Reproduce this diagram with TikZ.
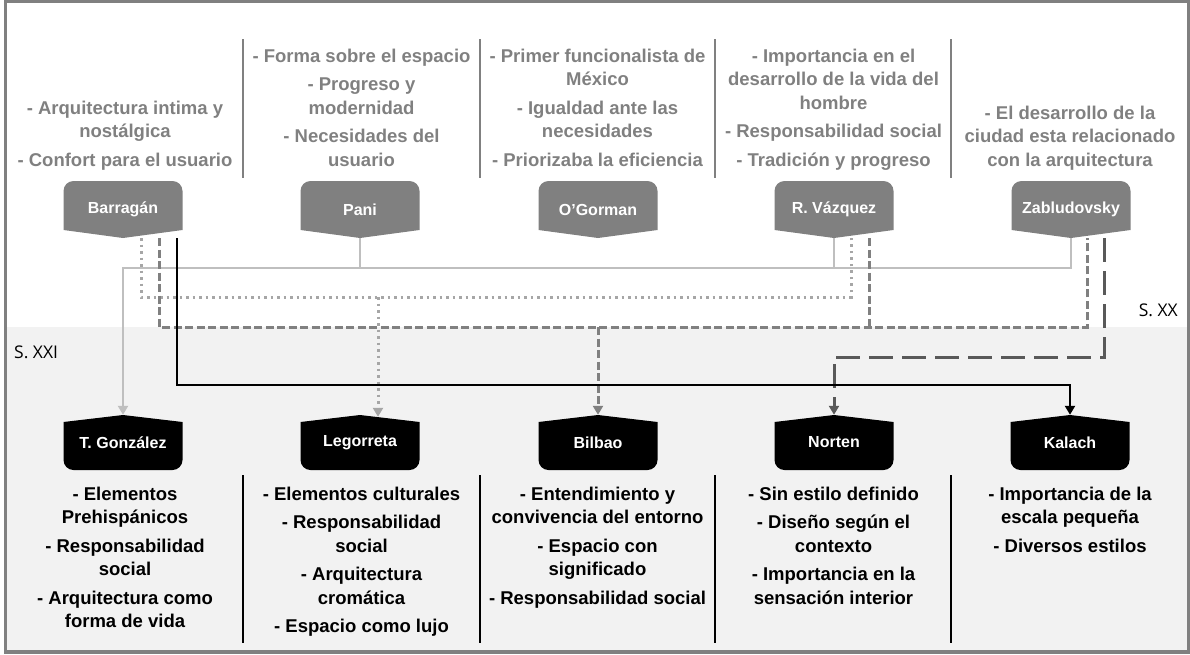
\documentclass[tikz,border=0pt]{standalone}
\usepackage{fontspec}
\setmainfont{Liberation Sans}
\newfontfamily\sxfont{Open Sans}
\usetikzlibrary{arrows.meta,calc}
\definecolor{ngray}{HTML}{808080}
\definecolor{bggray}{HTML}{F2F2F2}
\definecolor{cone}{HTML}{BFBFBF}
\definecolor{ctwo}{HTML}{A6A6A6}
\definecolor{cthree}{HTML}{808080}
\definecolor{cfour}{HTML}{595959}
\tikzset{
  topnode/.style={minimum width=119pt,minimum height=57pt,inner sep=0pt,text=white,
    font=\bfseries\fontsize{16}{18}\selectfont,
    path picture={\fill[ngray] ([yshift=8pt]path picture bounding box.south west)
      -- ([yshift=-10pt]path picture bounding box.north west)
      arc[start angle=180,end angle=90,radius=10pt]
      -- ([xshift=-10pt]path picture bounding box.north east)
      arc[start angle=90,end angle=0,radius=10pt]
      -- ([yshift=8pt]path picture bounding box.south east)
      -- (path picture bounding box.south) -- cycle;}},
  botnode/.style={minimum width=119pt,minimum height=55pt,inner sep=0pt,text=white,
    font=\bfseries\fontsize{16}{18}\selectfont,
    path picture={\fill[black] ([yshift=-7pt]path picture bounding box.north west)
      -- (path picture bounding box.north)
      -- ([yshift=-7pt]path picture bounding box.north east)
      -- ([yshift=10pt]path picture bounding box.south east)
      arc[start angle=0,end angle=-90,radius=10pt]
      -- ([xshift=10pt]path picture bounding box.south west)
      arc[start angle=-90,end angle=-180,radius=10pt]
      -- cycle;}},
  toptext/.style={align=center,text=ngray,font=\bfseries\fontsize{18.5}{23.5}\selectfont,anchor=base,inner sep=0pt},
  bottext/.style={align=center,text=black,font=\bfseries\fontsize{18.5}{23.5}\selectfont,anchor=base,inner sep=0pt},
  tip/.style={-{Triangle[width=10pt,length=9pt]}},
  solidl/.style={cone,line width=2.5pt},
  dotl/.style={ctwo,line width=3pt,dash pattern=on 2.5pt off 4pt},
  dashl/.style={cthree,line width=3pt,dash pattern=on 8pt off 3.5pt},
  blackl/.style={black,line width=2.5pt},
  ldashl/.style={cfour,line width=3pt,dash pattern=on 24pt off 9pt},
  sep/.style={line width=2pt},
  sxlabel/.style={font=\sxfont\fontsize{17.5}{20}\selectfont,inner sep=0pt}
}
\begin{document}
\begin{tikzpicture}[x=1pt,y=-1pt]
\useasboundingbox (0,0) rectangle (1190,654);
\fill[bggray] (5.5,327) rectangle (1188.5,652);
\draw[ngray,line width=3.5pt] (5.5,1.5) rectangle (1188.5,652);

% separators
\foreach \x in {242.5,479.5,714.5,951}{
  \draw[sep,ngray] (\x,39) -- (\x,178);
  \draw[sep,black] (\x,475) -- (\x,643);
}

% top nodes
\node[topnode] (Bar) at (123,209.5) {Barragán};
\node[topnode] (Pani) at (360,209.5) {Pani};
\node[topnode] (OGo) at (598,209.5) {O’Gorman};
\node[topnode] (RV) at (834,209.5) {R. Vázquez};
\node[topnode] (Zab) at (1071,209.5) {Zabludovsky};

% bottom nodes
\node[botnode] (TG) at (123,442.5) {T. González};
\node[botnode] (Leg) at (360,442.5) {Legorreta};
\node[botnode] (Bil) at (598,442.5) {Bilbao};
\node[botnode] (Nor) at (834,442.5) {Norten};
\node[botnode] (Kal) at (1070,442.5) {Kalach};

% top texts (anchored at baseline of last line)
\node[toptext] (t1) at (125,166) {- Arquitectura intima y\\nostálgica\\[5pt]- Confort para el usuario};
\node[toptext] (t2) at (361.5,166) {- Forma sobre el espacio\\[5pt]- Progreso y\\modernidad\\[5pt]- Necesidades del\\usuario};
\node[toptext] (t3) at (597.5,166) {- Primer funcionalista de\\México\\[5pt]- Igualdad ante las\\necesidades\\[5pt]- Priorizaba la eficiencia};
\node[toptext] (t4) at (833.5,166) {- Importancia en el\\desarrollo de la vida del\\hombre\\[5pt]- Responsabilidad social\\[5pt]- Tradición y progreso};
\node[toptext] (t5) at (1070,166) {- El desarrollo de la\\ciudad esta relacionado\\con la arquitectura};

% bottom texts (anchored at baseline of last line)
\node[bottext] (b1) at (125,627.5) {- Elementos\\Prehispánicos\\[5pt]- Responsabilidad\\social\\[5pt]- Arquitectura como\\forma de vida};
\node[bottext] (b2) at (361.5,632.5) {- Elementos culturales\\[5pt]- Responsabilidad\\social\\[5pt]- Arquitectura\\cromática\\[5pt]- Espacio como lujo};
\node[bottext] (b3) at (597.5,604) {- Entendimiento y\\convivencia del entorno\\[5pt]- Espacio con\\significado\\[5pt]- Responsabilidad social};
\node[bottext] (b4) at (833.5,604) {- Sin estilo definido\\[5pt]- Diseño según el\\contexto\\[5pt]- Importancia en la\\sensación interior};
\node[bottext] (b5) at (1070,552) {- Importancia de la\\escala pequeña\\[5pt]- Diversos estilos};

% labels
\node[sxlabel,anchor=base east] (sxx) at (1178,316) {S. XX};
\node[sxlabel,anchor=base west] (sxxi) at (14,358) {S. XXI};

% junction levels
\coordinate (h1) at (123,268);
\coordinate (h2) at (0,297);
\coordinate (h3) at (0,327);
\coordinate (h4) at (0,385);
\coordinate (h5) at (0,357);

% attachment points
\coordinate (bar2) at ([xshift=18pt]Bar.south);
\coordinate (bar3) at ([xshift=36pt]Bar.south);
\coordinate (bar4) at ([xshift=54pt]Bar.south);
\coordinate (rv2) at ([xshift=17pt]RV.south);
\coordinate (rv3) at ([xshift=35pt]RV.south);
\coordinate (zab3) at ([xshift=16pt]Zab.south);
\coordinate (zab5) at ([xshift=33pt]Zab.south);
\coordinate (leg2) at ([xshift=18pt,yshift=-2pt]Leg.north);

% light solid
\draw[solidl] (Pani.south) -- (Pani.south |- h1);
\draw[solidl] (RV.south) -- (RV.south |- h1);
\draw[solidl,tip] (Zab.south) |- (h1) -- (TG.north);

% dotted
\draw[dotl] (bar2) |- (rv2 |- h2) -- (rv2);
\draw[dotl,tip] (leg2 |- h2) -- (leg2);

% dashed
\draw[dashl] (bar3) |- (zab3 |- h3) -- (zab3);
\draw[dashl] (rv3) -- (rv3 |- h3);
\draw[dashl,tip] (Bil.north |- h3) -- (Bil.north);

% long dashed
\draw[ldashl,tip] (zab5) |- (Nor.north |- h5) -- (Nor.north);

% black
\draw[blackl,tip] (bar4) |- (Kal.north |- h4) -- (Kal.north);
\end{tikzpicture}
\end{document}
